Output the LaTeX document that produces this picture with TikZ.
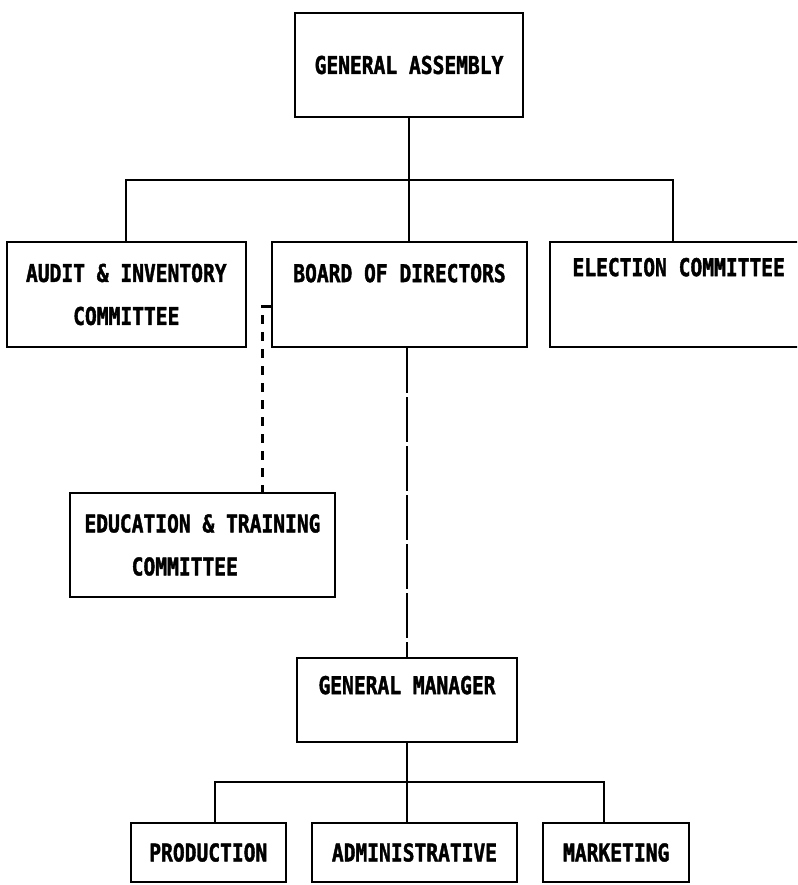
\documentclass[tikz,border=0pt]{standalone}
\usepackage{fontspec}
\newfontfamily\chartfont[FakeStretch=0.8, BoldFeatures={FakeBold=1.6}]{DejaVu Sans Mono}
\usetikzlibrary{positioning}

\begin{document}
\begin{tikzpicture}[
      x=1pt, y=1pt,
      orgbox/.style={rectangle, draw, line width=2.2pt, inner sep=0pt, align=center,
        font=\chartfont\bfseries\fontsize{24.5}{43}\selectfont},
      link/.style={line width=2.2pt},
      advisory/.style={link, dash pattern=on 9pt off 8pt},
      longdashed/.style={link, dash pattern=on 45pt off 4pt}
    ]

    \useasboundingbox (0,0) rectangle (797,-885);
    \clip (0,0) rectangle (797,-885);

    % Top: General Assembly
    \node[orgbox, minimum width=228pt, minimum height=104pt] (assembly) at (409,-65) {GENERAL ASSEMBLY};

    % Second row: committees and board
    \node[orgbox, minimum width=255pt, minimum height=105pt, text depth=43pt] (board) at (399.5,-294.5) {BOARD OF DIRECTORS};

    \node[orgbox, minimum width=239pt, minimum height=105pt, left=24pt of board] (audit) {
      AUDIT \& INVENTORY\\ COMMITTEE
    };

    \node[orgbox, minimum width=257pt, minimum height=105pt, text depth=55pt, right=21pt of board] (election) {ELECTION COMMITTEE};

    % Education committee under the board, to the left
    \node[orgbox, align=left, minimum width=265pt, minimum height=104pt] (education) at (202.5,-545) {
      EDUCATION \& TRAINING\\ \phantom{EDUC}COMMITTEE
    };

    % Management
    \node[orgbox, minimum width=220pt, minimum height=84pt, text depth=30pt] (manager) at (407,-700) {GENERAL MANAGER};

    % Bottom row: departments
    \node[orgbox, minimum width=205pt, minimum height=59pt] (admin) at (414.5,-852.5) {ADMINISTRATIVE};
    \node[orgbox, minimum width=155pt, minimum height=59pt, left=24pt of admin] (production) {PRODUCTION};
    \node[orgbox, minimum width=146pt, minimum height=59pt, right=24pt of admin] (marketing) {MARKETING};

    \coordinate (topbus) at (409,-180);
    \coordinate (lowbus) at (408,-782);

    % Lines
    \draw[link] (assembly.south) -- (assembly.south |- board.north);
    \draw[link] (audit.north) |- (topbus) -| ([xshift=-6pt]election.north);
    \draw[advisory] ([yshift=-12pt]board.west) -| ([xshift=60pt]education.north);
    \draw[longdashed] (manager.north |- board.south) -- (manager.north);
    \draw[link] (manager.south) -- (manager.south |- admin.north);
    \draw[link] ([xshift=6.5pt]production.north) |- (lowbus) -| ([xshift=-12pt]marketing.north);

  \end{tikzpicture}
\end{document}
